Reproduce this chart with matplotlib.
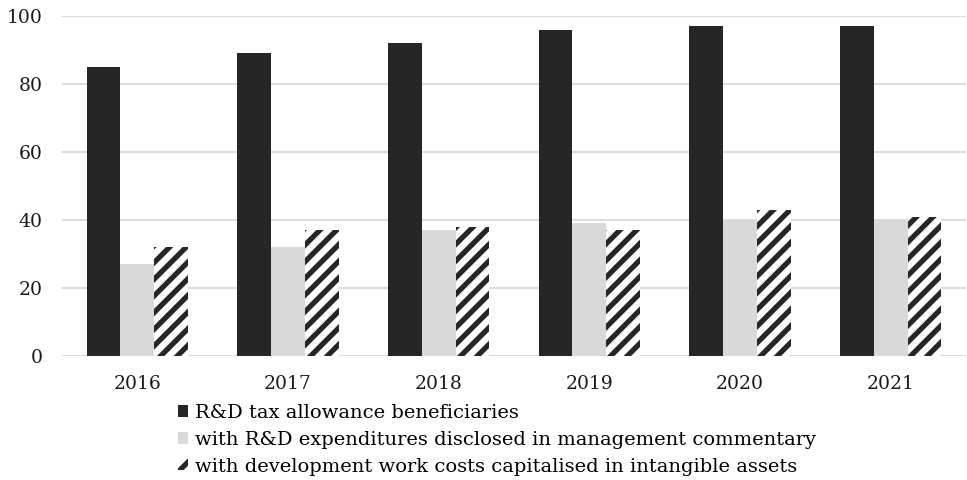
import matplotlib
matplotlib.use("Agg")
import matplotlib.pyplot as plt
import numpy as np
from matplotlib.patches import Patch

years = ["2016", "2017", "2018", "2019", "2020", "2021"]
beneficiaries = [85, 89, 92, 96, 97, 97]
disclosed = [27, 32, 37, 39, 40, 40]
capitalised = [32, 37, 38, 37, 43, 41]
labels = ["R&D tax allowance beneficiaries",
          "with R&D expenditures disclosed in management commentary",
          "with development work costs capitalised in intangible assets"]

plt.rcParams['font.family'] = ['DejaVu Serif']
plt.rcParams['hatch.linewidth'] = 3.8
plt.rcParams['hatch.color'] = '#262626'

fig = plt.figure(figsize=(9.67, 4.8), dpi=100)
ax = fig.add_axes([62/967, 1-356/480, (966-62)/967, (356-16)/480])

x = np.arange(len(years))
w = 0.224
ax.bar(x - w, beneficiaries, w, color='#262626', zorder=3)
ax.bar(x, disclosed, w, color='#d9d9d9', zorder=3)
ax.bar(x + w, capitalised, w, color='white', hatch='//', edgecolor='#262626', linewidth=0, zorder=3)

ax.set_xlim(-0.5, len(years) - 0.5)
ax.set_ylim(0, 100)
ax.set_yticks([0, 20, 40, 60, 80, 100])
ax.set_xticks(x)
ax.set_xticklabels(years)
ax.tick_params(length=0, labelsize=13.5, colors='#1a1a1a')
ax.tick_params(axis='x', pad=14)
ax.tick_params(axis='y', pad=14)
ax.grid(axis='y', color='#d9d9d9', linewidth=1.3, zorder=0)
for s in ax.spines.values():
    s.set_visible(False)

handles = [Patch(facecolor='#262626'), Patch(facecolor='#d9d9d9'),
           Patch(facecolor='white', hatch='//', edgecolor='#262626', linewidth=0)]
fig.legend(handles, labels, loc='upper left', bbox_to_anchor=(178/967, 1-404/480),
           frameon=False, fontsize=14, handlelength=0.52, handleheight=0.52,
           handletextpad=0.36, labelspacing=0.45, borderaxespad=0, borderpad=0)

fig.savefig("out.png", dpi=100)
